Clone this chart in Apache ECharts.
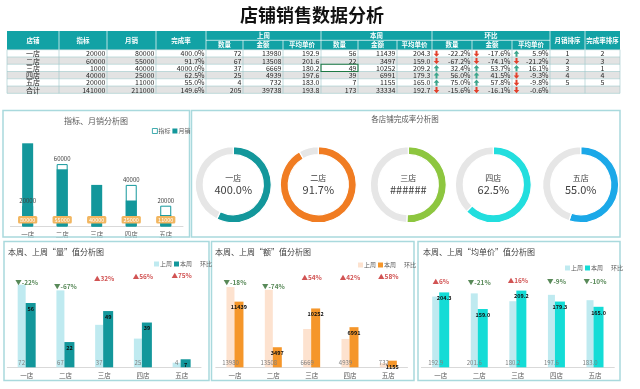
<!DOCTYPE html>
<html><head><meta charset="utf-8">
<script src="https://cdn.jsdelivr.net/npm/echarts@6/dist/echarts.min.js"></script>
<style>html,body{margin:0;padding:0;background:#fff}#c{width:640px;height:389px}</style>
</head><body><div id="c"></div>
<script>
// ---------- data ----------
const stores = ['一店','二店','三店','四店','五店'];
const target = [20000,60000,1000,40000,20000];
const monthSales = [80000,55000,40000,25000,11000];
const rate = [4.0,0.917,40.0,0.625,0.55];
const donutLabels = ['400.0%','91.7%','######','62.5%','55.0%'];
const lastQty = [72,67,37,25,4];
const lastAmt = [13980,13508,6669,4939,732];
const lastPrice = [192.9,201.6,180.2,197.6,183.0];
const thisQty = [56,22,49,39,7];
const thisAmt = [11439,3497,10252,6991,1155];
const thisPrice = [204.3,159.0,209.2,179.3,165.0];
const qtyChg = [-22.2,-67.2,32.4,56.0,75.0];
const amtChg = [-17.6,-74.1,53.7,41.5,57.8];
const priceChg = [5.9,-21.2,16.1,-9.3,-9.8];
const salesRank = [1,2,3,4,5];
const rateRank = [2,3,1,4,5];
const totalLabel = '合计';
const totalValues = [141000,211000,1.496,205,39738,193.8,173,33334,192.7,-15.6,-16.1,-0.6];
const headTop = ['店铺','指标','月销','完成率','上周','本周','环比','月销排序','完成率排序'];
const headSub = ['数量','金额','平均单价'];

// ---------- styling ----------
const FONT = '"Noto Sans CJK SC","Noto Sans",sans-serif';
const TEAL = '#13979b';
const chart = echarts.init(document.getElementById('c'));
const g = [];
function txt(x,y,text,o){ o=o||{}; g.push({type:'text',x:x,y:y,z:o.z||10,silent:true,style:{text:String(text),fill:o.color||'#262626',fontSize:o.size||7,fontFamily:FONT,fontWeight:o.weight||'normal',align:o.align||'center',verticalAlign:'middle'}}); }
function line(x1,y1,x2,y2,c,w){ g.push({type:'line',z:8,silent:true,shape:{x1,y1,x2,y2},style:{stroke:c,lineWidth:w}}); }
function rect(x,y,w,h,st,z){ g.push({type:'rect',z:z||5,silent:true,shape:{x,y,width:w,height:h},style:st}); }

// title
txt(312,15,'店铺销售数据分析',{size:18,weight:'bold',color:'#111'});

// ---------- table ----------
const colX = [7,59,107,156,206,243,283,321,358,397,432,472,512,550,585,620];
const hTop=31, hMid=40.3, hBot=49.7, rowH=7.27;
rect(7,hTop,613,hBot-hTop,{fill:'#12a2a5'},5);
const rows = stores.map((s,i)=>[s,target[i],monthSales[i],rate[i],lastQty[i],lastAmt[i],lastPrice[i],thisQty[i],thisAmt[i],thisPrice[i],qtyChg[i],amtChg[i],priceChg[i],salesRank[i],rateRank[i]]);
rows.push([totalLabel].concat(totalValues).concat(['','']));
rows.forEach((r,ri)=>{
  const y = hBot+ri*rowH;
  rect(7,y,613,rowH,{fill:(ri%2===1||ri===5)?'#e3e3e3':'#ffffff'},4);
  r.forEach((v,c)=>{
    const x0=colX[c], x1=colX[c+1], cy=y+rowH/2+0.3;
    if(c===0||c>=13){ txt((x0+x1)/2,cy,v); return; }
    let s;
    if(c===3) s=(v*100).toFixed(1)+'%';
    else if(c===6||c===9) s=v.toFixed(1);
    else if(c>=10){
      s=v.toFixed(1)+'%';
      const ax=x0+4.5, up=v>=0, col=up?'#3aa58c':'#e2402b';
      const k=up?-1:1;
      g.push({type:'polygon',z:9,silent:true,shape:{points:[[ax-1,cy-3*k],[ax+1,cy-3*k],[ax+1,cy],[ax+2.8,cy],[ax,cy+3.2*k],[ax-2.8,cy],[ax-1,cy]]},style:{fill:col}});
    } else s=String(v);
    txt(x1-1.5,cy,s,{align:'right'});
  });
});
for(let r=0;r<=6;r++) line(7,hBot+r*rowH,620,hBot+r*rowH,'#9cc7ca',0.6);
colX.forEach(x=>line(x,hBot,x,hBot+6*rowH,'#9cc7ca',0.6));
[1,2,3,4,7,10,13,14].forEach(c=>line(colX[c],hTop,colX[c],hBot,'#ffffff',0.7));
[5,6,8,9,11,12].forEach(c=>line(colX[c],hMid,colX[c],hBot,'#ffffff',0.7));
line(colX[4],hMid,colX[13],hMid,'#ffffff',0.7);
const hw={color:'#ffffff',size:6.5,weight:'bold'};
for(let c=0;c<4;c++) txt((colX[c]+colX[c+1])/2,(hTop+hBot)/2,headTop[c],hw);
[4,7,10].forEach((c,k)=>{
  txt((colX[c]+colX[c+3])/2,(hTop+hMid)/2,headTop[4+k],hw);
  for(let j=0;j<3;j++) txt((colX[c+j]+colX[c+j+1])/2,(hMid+hBot)/2,headSub[j],hw);
});
txt((colX[13]+colX[14])/2,(hTop+hBot)/2,headTop[7],hw);
txt((colX[14]+colX[15])/2,(hTop+hBot)/2,headTop[8],hw);
rect(colX[7],hBot+2*rowH,colX[8]-colX[7],rowH,{fill:'none',stroke:'#1f7a45',lineWidth:1.1},11);

// ---------- panels ----------
const pb={fill:'none',stroke:'#a9d9dd',lineWidth:1.5};
rect(3,110.5,186.5,126.5,pb,1);
rect(191.5,110.5,428.5,126.5,pb,1);
rect(4,241.5,205,139,pb,1);
rect(211.5,241.5,202.5,139,pb,1);
rect(418,241.5,202,139,pb,1);
txt(96,121,'指标、月销分析图',{size:8,color:'#595959'});
txt(405,119,'各店铺完成率分析图',{size:7.5,color:'#595959'});
txt(8,252,'本周、上周“量”值分析图',{size:8,color:'#404040',align:'left'});
txt(215,252,'本周、上周“额”值分析图',{size:8,color:'#404040',align:'left'});
txt(423,252,'本周、上周“均单价”值分析图',{size:8,color:'#404040',align:'left'});

// ---------- chart option ----------
const catAxis = gi => ({type:'category',gridIndex:gi,data:stores,axisTick:{show:false},axisLine:{lineStyle:{color:'#d9d9d9'}},axisLabel:{fontSize:6.5,color:'#595959',margin:5}});
const hidY = (gi,min,max) => ({type:'value',gridIndex:gi,min:min,max:max,show:false,splitLine:{show:false}});
function mkLegend(left,top,data){
  return {left:left,top:top,data:data,icon:'rect',itemWidth:5,itemHeight:5,itemGap:2,selectedMode:false,
    textStyle:{fontSize:6,color:'#595959',padding:[0,0,0,-4]}};
}
function cmpLegend(left,top,c1,c2){
  return mkLegend(left,top,[{name:'上周',itemStyle:{color:c1}},{name:'本周',itemStyle:{color:c2}},{name:'环比',itemStyle:{color:'rgba(0,0,0,0)'}}]);
}
function cmpSeries(xi,yi,yi2,last,cur,chg,c1,c2,w1,w2,fmt){
  return [
    {name:'上周',type:'bar',xAxisIndex:xi,yAxisIndex:yi,data:last,barWidth:w1,barGap:'0%',itemStyle:{color:c1},
      label:{show:true,position:'insideBottom',distance:2,fontSize:6,color:'#7f7f7f',formatter:p=>fmt(p.value)}},
    {name:'本周',type:'bar',xAxisIndex:xi,yAxisIndex:yi,data:cur,barWidth:w2,barGap:'0%',itemStyle:{color:c2},
      label:{show:true,position:'insideTop',distance:3,fontSize:5.5,fontWeight:'bold',color:'#111',formatter:p=>fmt(p.value)}},
    {name:'环比',type:'scatter',xAxisIndex:xi,yAxisIndex:yi2,data:chg,symbolSize:1,itemStyle:{color:'rgba(0,0,0,0)'},
      label:{show:true,position:'inside',formatter:p=>{const v=Math.round(p.value);return v>=0?'{u|▲'+v+'%}':'{d|▼'+v+'%}';},
        rich:{u:{color:'#c62828',fontSize:6.5,fontWeight:'bold'},d:{color:'#2e6b2e',fontSize:6.5,fontWeight:'bold'}}}}
  ];
}
const ringColors = ['#13979b','#f07c22','#8dc63f','#22dede','#1ba8e8'];
const ringX = [233.3,318.3,408.3,493.3,580.7];
const pies = stores.map((s,i)=>({
  type:'pie',center:[ringX[i],184.7],radius:[30,38],startAngle:90,silent:true,
  emphasis:{disabled:true},labelLine:{show:false},label:{show:false},
  itemStyle:{borderColor:'#fff',borderWidth:1.2},
  data:[
    {value:rate[i],itemStyle:{color:ringColors[i]},label:{show:true,position:'center',
      formatter:'{a|'+s+'}\n{b|'+donutLabels[i]+'}',
      rich:{a:{fontSize:8,color:'#404040',lineHeight:10,fontFamily:FONT},b:{fontSize:11,color:'#404040',lineHeight:13,fontFamily:FONT}}}},
    {value:Math.abs(1-rate[i]),itemStyle:{color:'#e6e6e6'}}
  ]
}));

const option = {
  animation:false,
  backgroundColor:'#ffffff',
  textStyle:{fontFamily:FONT},
  grid:[
    {left:10.4,right:457,top:143.3,bottom:162.5},
    {left:7.3,right:439,top:252.5,bottom:21.7},
    {left:215.8,right:232.5,top:252.5,bottom:21.7},
    {left:421.4,right:25.7,top:257.3,bottom:21.7}
  ],
  xAxis:[catAxis(0),catAxis(1),catAxis(2),catAxis(3)],
  yAxis:[hidY(0,0,80000),hidY(1,0,100),hidY(1,-1110,370),hidY(2,0,20000),hidY(2,-1110,370),hidY(3,0,300),hidY(3,-2030,570)],
  legend:[
    mkLegend(147,123,[{name:'指标',itemStyle:{color:'#ffffff',borderColor:TEAL,borderWidth:0.8}},{name:'月销',itemStyle:{color:TEAL}}]),
    cmpLegend(149,256,'#bfeaf0',TEAL),
    cmpLegend(353,257,'#fde2cf','#f5962a'),
    cmpLegend(560,260,'#bfeaf0','#14dcd6')
  ],
  series:[
    {name:'指标',type:'bar',xAxisIndex:0,yAxisIndex:0,data:target,barWidth:11,
      itemStyle:{color:'#ffffff',borderColor:TEAL,borderWidth:1},
      label:{show:true,position:'top',distance:2,fontSize:6,color:'#404040'}},
    {name:'月销',type:'bar',xAxisIndex:0,yAxisIndex:0,data:monthSales,barWidth:11,barGap:'-100%',
      itemStyle:{color:TEAL},
      label:{show:true,position:'insideBottom',distance:3,fontSize:5.5,color:'#ffffff',backgroundColor:'#f2b660',padding:[1,2],borderRadius:1.5}}
  ]
  .concat(cmpSeries(1,1,2,lastQty,thisQty,qtyChg,'#bfeaf0',TEAL,8,10,v=>String(v)))
  .concat(cmpSeries(2,3,4,lastAmt,thisAmt,amtChg,'#fde2cf','#f5962a',8,9,v=>String(v)))
  .concat(cmpSeries(3,5,6,lastPrice,thisPrice,priceChg,'#bfeaf0','#14dcd6',7,10,v=>v.toFixed(1)))
  .concat(pies),
  graphic:{elements:g}
};
chart.setOption(option);
</script></body></html>
